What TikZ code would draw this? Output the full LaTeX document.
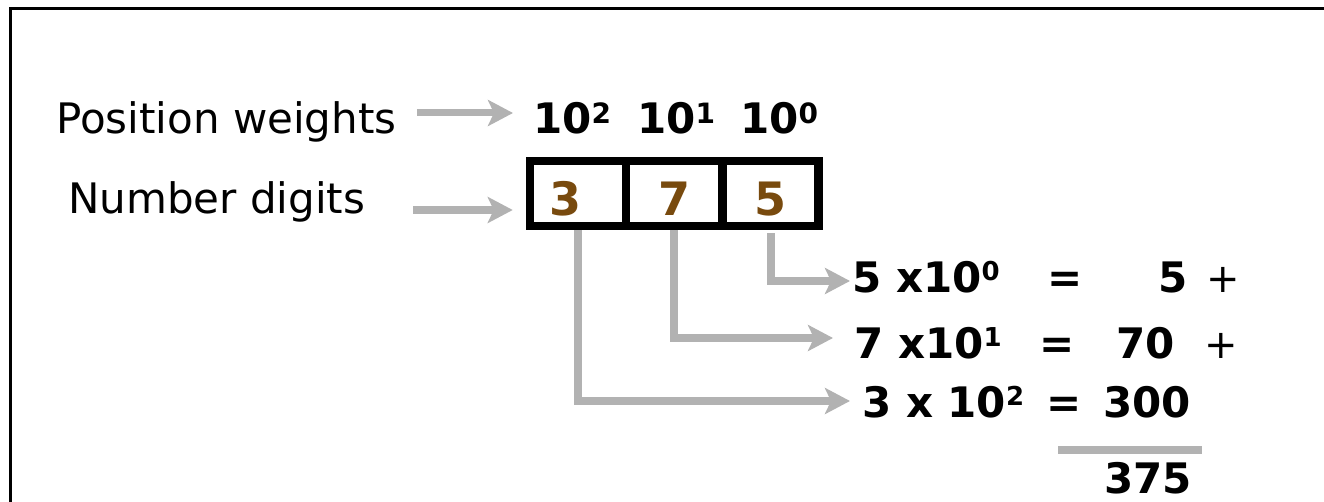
\documentclass[tikz,border=0pt]{standalone}
\usepackage{fontspec}
\setmainfont{DejaVu Sans}
\usetikzlibrary{arrows.meta,calc}
\definecolor{connGray}{RGB}{178,178,178}
\definecolor{digitBrown}{RGB}{120,74,14}
\newcommand\wsup[1]{\raisebox{10pt}{\fontsize{28pt}{28pt}\selectfont #1}}
\newcommand\rsup[1]{\raisebox{12pt}{\fontsize{26pt}{26pt}\selectfont #1}}
\begin{document}
\begin{tikzpicture}[x=1pt,y=-1pt,
  lbl/.style={inner sep=0pt, anchor=base west, font=\fontsize{42pt}{42pt}\selectfont},
  weight/.style={inner sep=0pt, anchor=base west, font=\fontsize{42pt}{42pt}\selectfont\bfseries},
  cell/.style={draw, line width=8.5pt, minimum width=96pt, minimum height=65pt, inner sep=0pt,
    text height=44pt, text depth=0pt, text=digitBrown, font=\fontsize{46pt}{46pt}\selectfont\bfseries},
  term/.style={inner sep=0pt, anchor=base west, font=\fontsize{42pt}{42pt}\selectfont\bfseries},
  eqn/.style={inner sep=0pt, anchor=base, font=\fontsize{42pt}{42pt}\selectfont\bfseries},
  val/.style={inner sep=0pt, anchor=base east, font=\fontsize{42pt}{42pt}\selectfont\bfseries},
  plus/.style={inner sep=0pt, anchor=base west, font=\fontsize{40pt}{40pt}\selectfont},
  conn/.style={draw=connGray, line width=8pt, -{Stealth[length=25pt,width=26pt,inset=6pt]}},
  rule/.style={draw=connGray, line width=8pt},
  frame/.style={draw=black, line width=2.5pt}
]
\useasboundingbox (0,0) rectangle (1324,502);
\draw[frame] (10.5,502) -- (10.5,8.7) -- (1324,8.7);

% labels
\node[lbl] (pw) at (56,134) {Position weights};
\node[lbl] (nd) at (68,214) {Number digits};

% weights
\node[weight] (w2) at (533,134) {10\wsup{2}};
\node[weight] (w1) at (637,134) {10\wsup{1}};
\node[weight] (w0) at (740,134) {10\wsup{0}};

% digit cells
\node[cell] (c3) at (578,193.5) {\hspace*{-26pt}3};
\node[cell] (c7) at (674,193.5) {7};
\node[cell] (c5) at (770.5,193.5) {5};

% rows
\node[term] (r1) at (852,293) {5 x10\rsup{0}};
\node[eqn]  (e1) at (1065,293) {=};
\node[val]  (v1) at (1188,293) {5};
\node[plus] (p1) at (1206,293) {+};

\node[term] (r2) at (854,358) {7 x10\rsup{1}};
\node[eqn]  (e2) at (1057,358) {=};
\node[val]  (v2) at (1175,358) {70};
\node[plus] (p2) at (1204,358) {+};

\node[term] (r3) at (862,417) {3 x 10\rsup{2}};
\node[eqn]  (e3) at (1064,417) {=};
\node[val]  (v3) at (1191,417) {300};

\node[val]  (tot) at (1192,493) {375};
\draw[rule] (1058,450) -- (1202,450);

% connectors
\draw[conn, line width=7pt] ($(pw.base east)+(20,-21)$) -- ($(w2.base west)+(-20,-21)$);
\draw[conn] ($(nd.base east)+(48,-4)$) -- ($(c3.west)+(-13,16.5)$);
\draw[conn] ([yshift=-3pt]c5.south) |- ($(r1.base west)+(-2,-12)$);
\draw[conn] (c7.south) |- ($(r2.base west)+(-21,-20)$);
\draw[conn] (c3.south) |- ($(r3.base west)+(-12,-16)$);
\end{tikzpicture}
\end{document}
